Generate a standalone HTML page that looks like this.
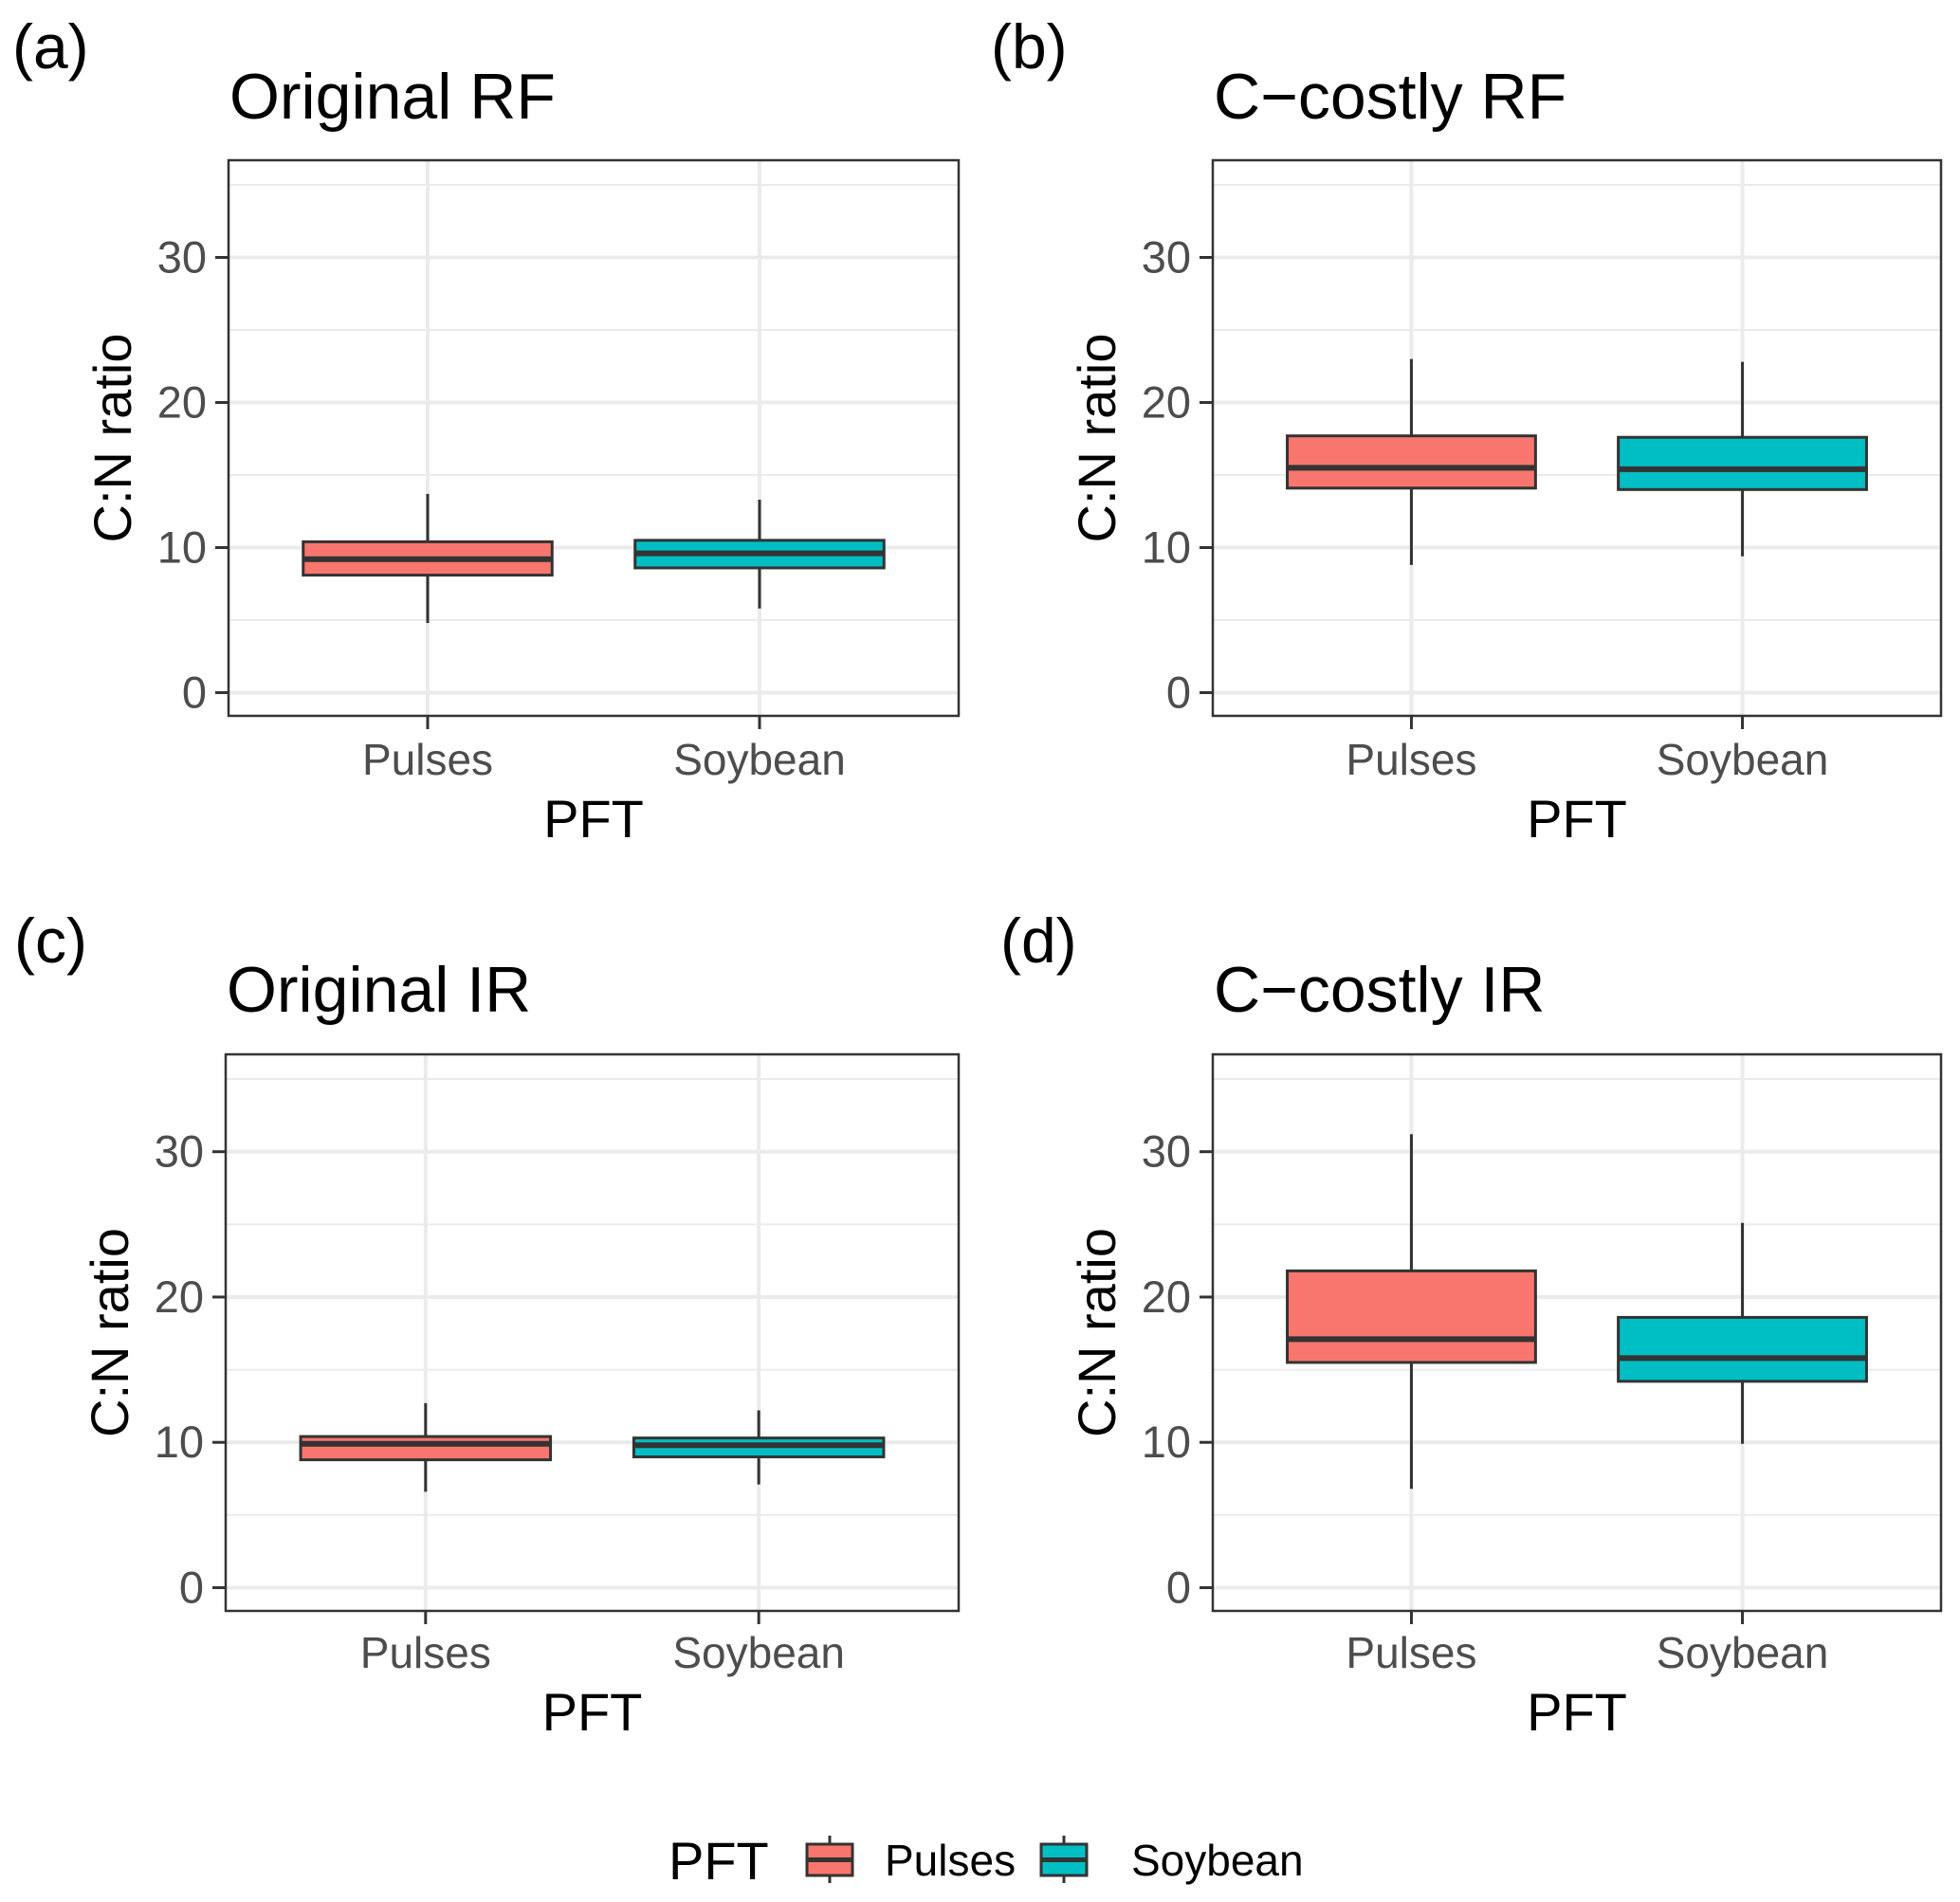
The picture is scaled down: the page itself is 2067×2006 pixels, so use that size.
<!DOCTYPE html>
<html><head><meta charset="utf-8"><style>
html,body{margin:0;padding:0;background:#fff;}
svg{display:block;}
text{font-family:"Liberation Sans",Arial,sans-serif;}
</style></head><body>
<svg id="fig" width="2067" height="2006" viewBox="0 0 2067 2006" xmlns="http://www.w3.org/2000/svg"></svg>
<script>
const categories = ["Pulses","Soybean"];
const panelTitles = ["Original RF","C\u2212costly RF","Original IR","C\u2212costly IR"];
const panelTags = ["(a)","(b)","(c)","(d)"];
const yTicks = [0,10,20,30];
const yMinor = [5,15,25,35];
// per panel: [Pulses, Soybean] as [lowWhisker, q1, median, q3, highWhisker]
const statsA = [[4.8,8.1,9.2,10.4,13.7],[5.8,8.6,9.6,10.5,13.3]];
const statsB = [[8.8,14.1,15.5,17.7,23.0],[9.4,14.0,15.4,17.6,22.8]];
const statsC = [[6.6,8.8,9.9,10.4,12.7],[7.1,9.0,9.8,10.3,12.2]];
const statsD = [[6.8,15.5,17.1,21.8,31.2],[9.9,14.2,15.8,18.6,25.1]];
const fills = ["#F8766D","#00BFC4"];

const NS="http://www.w3.org/2000/svg";
const svg=document.getElementById('fig');
function mk(tag,attrs,parent){const e=document.createElementNS(NS,tag);for(const k in attrs)e.setAttribute(k,attrs[k]);(parent||svg).appendChild(e);return e;}

const layouts=[
 {l:241,r:1011,t:169,b:755,tagX:13,tagY:72,titleY:125,tlY:817,xtY:883},
 {l:1279,r:2047,t:169,b:755,tagX:1045,tagY:72,titleY:125,tlY:817,xtY:883},
 {l:238,r:1011,t:1112,b:1699,tagX:15,tagY:1015,titleY:1067,tlY:1759,xtY:1825},
 {l:1279,r:2047,t:1112,b:1699,tagX:1055,tagY:1015,titleY:1067,tlY:1759,xtY:1825}
];
const allStats=[statsA,statsB,statsC,statsD];
const yDom=[-1.6,36.7];

layouts.forEach((L,pi)=>{
  const g=mk('g',{});
  
  
  const y=v=>L.b-(v-yDom[0])/(yDom[1]-yDom[0])*(L.b-L.t);
  const xc=i=>L.l+(L.r-L.l)*((i+1)-0.4)/2.2;
  const half=(L.r-L.l)*0.375/2.2;
  const tag=mk('text',{x:L.tagX,y:L.tagY,'font-size':66,fill:'#000'},g);tag.textContent=panelTags[pi];
  
  
  const tt=mk('text',{x:L.l+1,y:L.titleY,'font-size':68,fill:'#000'},g);tt.textContent=panelTitles[pi];
  
  
  mk('rect',{x:L.l,y:L.t,width:L.r-L.l,height:L.b-L.t,fill:'#fff'},g);
  yMinor.forEach(v=>{const ln=mk('line',{x1:L.l,x2:L.r,y1:y(v),y2:y(v),stroke:'#ebebeb','stroke-width':2},g);
    
    });
  yTicks.forEach(v=>{const ln=mk('line',{x1:L.l,x2:L.r,y1:y(v),y2:y(v),stroke:'#ebebeb','stroke-width':4},g);
    
    
    mk('line',{x1:L.l-14,x2:L.l,y1:y(v),y2:y(v),stroke:'#333','stroke-width':3},g);
    const t=mk('text',{x:L.l-23,y:y(v)+16,'font-size':47,fill:'#4d4d4d','text-anchor':'end'},g);t.textContent=v;
    
    });
  categories.forEach((c,i)=>{
    const cx=xc(i);
    mk('line',{x1:cx,x2:cx,y1:L.t,y2:L.b,stroke:'#ebebeb','stroke-width':4},g);
    mk('line',{x1:cx,x2:cx,y1:L.b,y2:L.b+14,stroke:'#333','stroke-width':3},g);
    const t=mk('text',{x:cx,y:L.tlY,'font-size':46,fill:'#4d4d4d','text-anchor':'middle'},g);t.textContent=c;
    
    
  });
  categories.forEach((c,i)=>{
    const s=allStats[pi][i];const cx=xc(i);
    const bg=mk('g',{},g);
    
    
    mk('line',{x1:cx,x2:cx,y1:y(s[4]),y2:y(s[3]),stroke:'#333','stroke-width':3},bg);
    mk('line',{x1:cx,x2:cx,y1:y(s[1]),y2:y(s[0]),stroke:'#333','stroke-width':3},bg);
    mk('rect',{x:cx-half,y:y(s[3]),width:2*half,height:y(s[1])-y(s[3]),fill:fills[i],stroke:'#333','stroke-width':3},bg);
    mk('line',{x1:cx-half,x2:cx+half,y1:y(s[2]),y2:y(s[2]),stroke:'#333','stroke-width':6},bg);
  });
  const fr=mk('rect',{x:L.l,y:L.t,width:L.r-L.l,height:L.b-L.t,fill:'none',stroke:'#333','stroke-width':2.5},g);
  
  
  const xt=mk('text',{x:(L.l+L.r)/2,y:L.xtY,'font-size':56,fill:'#000','text-anchor':'middle'},g);xt.textContent='PFT';
  
  
  const yc=(L.t+L.b)/2;const yx=L.l-103;
  const yt=mk('text',{x:yx,y:yc,'font-size':56,fill:'#000','text-anchor':'middle',transform:`rotate(-90 ${yx} ${yc})`},g);yt.textContent='C:N ratio';
  
  
});

// legend
const lg=mk('g',{});


const lt=mk('text',{x:705,y:1982,'font-size':56,fill:'#000'},lg);lt.textContent='PFT';
const keyX=[851,1098];const labX=[933,1193];
categories.forEach((c,i)=>{
  const e=mk('g',{},lg);
  
  
  const kx=keyX[i]+24;
  mk('line',{x1:kx,x2:kx,y1:1936,y2:1986,stroke:'#333','stroke-width':3},e);
  mk('rect',{x:keyX[i],y:1945,width:48,height:33,fill:fills[i],stroke:'#333','stroke-width':3},e);
  mk('line',{x1:keyX[i],x2:keyX[i]+48,y1:1961.5,y2:1961.5,stroke:'#333','stroke-width':5},e);
  const t=mk('text',{x:labX[i],y:1978,'font-size':46,fill:'#000'},e);t.textContent=c;
});
</script>
</body></html>
